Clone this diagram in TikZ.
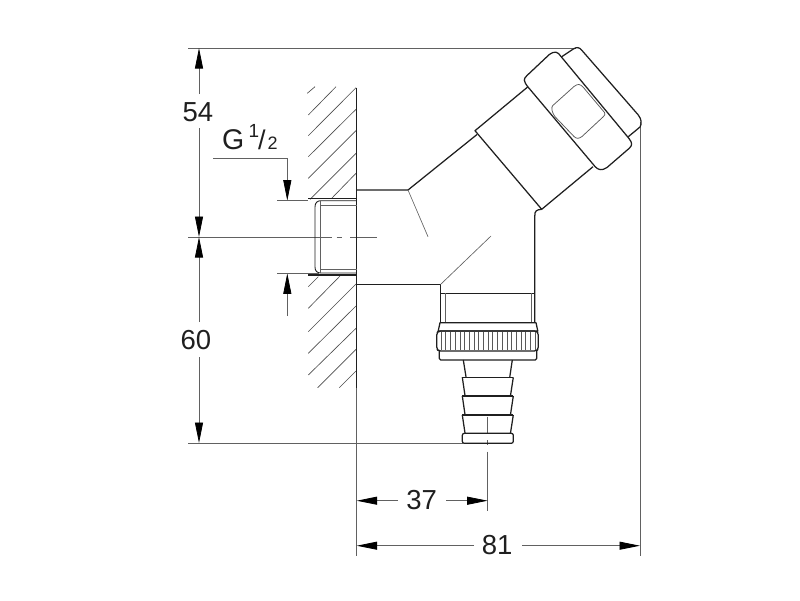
\documentclass[tikz,border=0pt]{standalone}
\usepackage{fontspec}
\setmainfont{Liberation Sans}
\usetikzlibrary{arrows.meta}
\tikzset{
 x=1pt,y=-1pt,
 part/.style={draw=black!88,line width=1.25pt,line join=round},
 thinpart/.style={draw=black!62,line width=.65pt},
 dimline/.style={draw=black!62,line width=.8pt},
 hatchline/.style={draw=black!70,line width=.65pt},
 dimarrow/.style={draw=black!62,line width=.8pt,-{Triangle[length=20.5pt,width=8pt,black]}},
 dimlabel/.style={font=\fontsize{27.5}{27.5}\selectfont,text=black!88,inner sep=0pt}
}
\begin{document}
\begin{tikzpicture}
\useasboundingbox (0,0) rectangle (800,600);
% extension lines
\coordinate (topL) at (188,48); \coordinate (topR) at (576,48);
\coordinate (botL) at (188,443); \coordinate (botR) at (463,443);
\coordinate (cL) at (188,237); \coordinate (cR) at (377,237);
\draw[dimline] (topL)--(topR);
\draw[dimline] (botL)--(botR);
\draw[dimline] (cL)--(331.700,237) (336.700,237)--(341.700,237) (350,237)--(cR);
\draw[dimline] (640,122)--(640,556);
\draw[dimline] (356.700,387)--(356.700,556);
\draw[dimline] (487.700,416.700)--(487.700,433) (487.700,440)--(487.700,445) (487.700,451.700)--(487.700,511);
% dimension 54/60
\node[dimlabel] (d54) at (198,112) {54};
\node[dimlabel] (d60) at (196,340.500) {60};
\coordinate (a1) at (199,48); \coordinate (a2) at (199,237); \coordinate (a3) at (199,443);
\draw[dimarrow] (199,94)--(a1);
\draw[dimarrow] (199,128)--(a2);
\draw[dimarrow] (199,322)--(a2);
\draw[dimarrow] (199,357)--(a3);
% dimension 37/81
\node[dimlabel] (d37) at (421.700,500.500) {37};
\node[dimlabel] (d81) at (497.200,545.500) {81};
\draw[dimarrow] (398,500.700)--(356.700,500.700);
\draw[dimarrow] (446,500.700)--(487.700,500.700);
\draw[dimarrow] (474,545.700)--(356.700,545.700);
\draw[dimarrow] (522,545.700)--(640,545.700);
% G 1/2
\node[inner sep=0pt,anchor=base west,font=\fontsize{28.500}{28.500}\selectfont,text=black!88] (g) at (222,149.500) {G};
\node[inner sep=0pt,anchor=base west,font=\fontsize{19}{19}\selectfont,text=black!88] (one) at (248.500,137.500) {1};
\node[inner sep=0pt,anchor=base west,font=\fontsize{27}{27}\selectfont,text=black!88] (sl) at (258,149.500) {/};
\node[inner sep=0pt,anchor=base west,font=\fontsize{18}{18}\selectfont,text=black!88] (two) at (267.500,149.500) {2};
\draw[dimline] (213,158.300)--(287.300,158.300);
\draw[dimarrow] (287.300,158.300)--(287.300,200.700);
\draw[dimline] (277,200.700)--(308,200.700);
\draw[dimarrow] (287.300,316)--(287.300,273.300);
\draw[dimline] (277,273.300)--(319,273.300);
% wall hatching
\draw[hatchline] (307.300,93.300)--(315,86.700);
\draw[hatchline] (308.300,115)--(336,86.700);
\draw[hatchline] (308.300,135.700)--(356,87.700);
\draw[hatchline] (308.300,156.700)--(356,109.300);
\draw[hatchline] (308.300,178.300)--(356,130.700);
\draw[hatchline] (310,199.300)--(356,153.300);
\draw[hatchline] (331.700,198.300)--(356,173.300);
\draw[hatchline] (308.300,286.700)--(318.300,276.700);
\draw[hatchline] (308.300,308.300)--(340,276);
\draw[hatchline] (308.300,331.700)--(356,284);
\draw[hatchline] (308.300,353.300)--(356,306);
\draw[hatchline] (308.300,375)--(356,328.300);
\draw[hatchline] (317.700,387.700)--(356,349.300);
\draw[hatchline] (339.300,387.700)--(356,371);
% wall line
\draw[part] (356.700,87.700)--(356.700,387.700);
% threaded stub
\draw[part] (308,198.500)--(356.700,198.500);
\draw[part] (308,275)--(356.700,275);
\draw[thinpart] (320,205)--(356.700,205);
\draw[thinpart] (320,269.300)--(356.700,269.300);
\draw[part,line width=.9pt] (356.700,200.700) -- (321,200.700) .. controls (317,200.700) and (315,203) .. (315,207) -- (315,267) .. controls (315,271) and (317,273) .. (321,273) -- (356.700,273);
\draw[thinpart] (320,201)--(320,273);
% body
\draw[part] (356.700,190)--(408,190)--(477,134.500);
\draw[part] (356.700,284.300)--(440.700,284.300)--(440.700,322.700);
\draw[part] (541.700,209.300) .. controls (536,209.800) and (534.800,211) .. (534.800,216) -- (534.800,322.700);
\draw[thinpart] (408,190)--(428,236.700);
\draw[thinpart] (440.700,284.300)--(491,236);
% angled collar
\draw[part] (528,86.700)--(475,130.700)--(541.700,209.300)--(593,166.700);
% angled nut
\draw[part] (528,87) .. controls (523,80.500) and (523.500,79) .. (527,75.500) -- (549,54.800) .. controls (555,50.500) and (557.500,51.500) .. (561,56.500) -- (629,138.500) .. controls (632.500,143) and (632.500,145.500) .. (629,148.500) -- (607,167.500) .. controls (602,171) and (598,170) .. (595,166.500) -- cycle;
\draw[part] (561.700,56.700) -- (573.300,49) .. controls (577,46.800) and (579,47) .. (582,50.500) -- (638.300,115) .. controls (641.500,119) and (642,124) .. (640,127) -- (628.300,136.700);
\draw[draw=black!65,line width=.75pt,line join=round] (552.500,105.800) -- (574,86.500) .. controls (578,83.500) and (580,84) .. (583,87) -- (604.500,112.500) .. controls (605.500,114) and (605,115.500) .. (603,117) -- (582,136.500) .. controls (578.500,139) and (576.500,138.800) .. (574,136.500) -- (555,116.700) .. controls (552,112.500) and (551,108) .. (552.500,105.800) -- cycle;
% lower collar
\draw[part] (440.700,293.300)--(534.800,293.300);
\draw[thinpart] (445,293.300)--(445,322.700) (531,293.300)--(531,322.700);
\draw[part] (440,322.700)--(536,322.700)--(537.800,331)--(438.200,331)--cycle;
\draw[part,rounded corners=2pt] (438.500,331)--(536.500,331)--(538.300,333)--(538.300,349)--(536.500,351)--(438.500,351)--(436.700,349)--(436.700,333)--cycle;
\foreach \x in {441,445.700,...,535} \draw[draw=black!65,line width=.55pt] (\x,332)--(\x,350);
\draw[part,rounded corners=1.5pt] (439.300,351)--(439.300,360)--(536.700,360)--(536.700,351);
% hose tail
\draw[part] (463.300,360)--(466,376.800);
\draw[part] (512.300,360)--(509.800,376.800);
\draw[part] (462.300,377.300)--(513.300,377.300);
\draw[part] (462.300,377.300)--(465,395.500) (513.300,377.300)--(510.500,395.500);
\draw[part] (462.300,396)--(513.300,396);
\draw[part] (462.300,396)--(465,414.500) (513.300,396)--(510.500,414.500);
\draw[part] (462.300,415)--(513.300,415);
\draw[part] (462.300,415)--(465,433) (513.300,415)--(510.500,433);
\draw[part,rounded corners=2pt] (462.300,433.300)--(513.300,433.300)--(513.300,443.300)--(462.300,443.300)--cycle;
\end{tikzpicture}
\end{document}
